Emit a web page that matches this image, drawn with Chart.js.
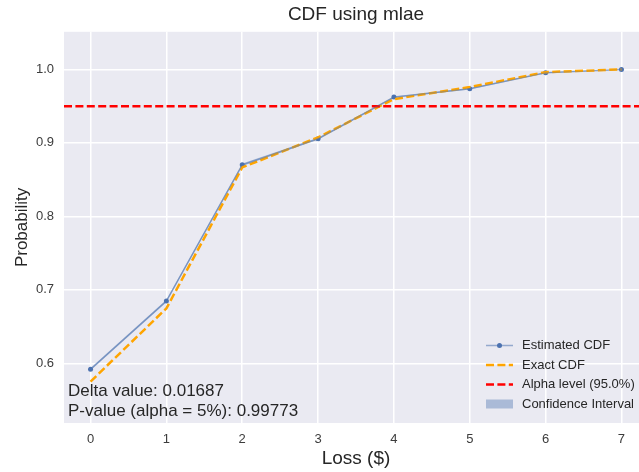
<!DOCTYPE html>
<html>
<head>
<meta charset="utf-8">
<script src="https://cdn.jsdelivr.net/npm/chart.js@4.4.1/dist/chart.umd.min.js"></script>
<style>
  html, body { margin: 0; padding: 0; overflow: hidden; background: #ffffff; }
  #wrap { width: 652px; height: 472px; }
</style>
</head>
<body>
<div id="wrap"><canvas id="cdf" width="652" height="472"></canvas></div>
<script>
// Loss values and CDF estimates
const lossValues   = [0, 1, 2, 3, 4, 5, 6, 7];
const estimatedCdf = [0.5920, 0.6848, 0.8702, 0.9056, 0.9623, 0.9736, 0.9954, 1.0000];
const exactCdf     = [0.57513, 0.6748, 0.8667, 0.9075, 0.9596, 0.9760, 0.9963, 1.0000];
const ciLower      = [0.5902, 0.6830, 0.8686, 0.9042, 0.9611, 0.9726, 0.9947, 0.9994];
const ciUpper      = [0.5938, 0.6866, 0.8718, 0.9070, 0.9635, 0.9746, 0.9961, 1.0000];
const alphaLevel   = 0.95;
const deltaValue   = 0.01687;
const pValue       = 0.99773;
const alphaPct     = 5;

// Axis limits and ticks
const xLimits     = [-0.35, 7.35];
const yLimits     = [0.5188, 1.0512];
const xTickValues = [0, 1, 2, 3, 4, 5, 6, 7];
const yTickValues = [0.6, 0.7, 0.8, 0.9, 1.0];

const FONT = '"Liberation Sans", Arial, sans-serif';
const TEXT = '#262626';
const TICK = '#3c3c3c';
const BLUE = '#4C72B0';
const BLUE_LINE = 'rgba(76,114,176,0.55)';
const BLUE_FILL = 'rgba(76,114,176,0.4)';
const ORANGE = '#FFA500';
const RED = '#FF0000';
const DASH = [8, 3.4];

const pts = (ys) => lossValues.map((x, i) => ({ x, y: ys[i] }));

// Corner legend drawn inside the plotting area, lower right
const cornerLegend = {
  id: 'cornerLegend',
  afterDraw(chart) {
    const { ctx, chartArea: a } = chart;
    const rowH = 19.5;
    const x0 = a.right - 162;
    const hw = 27;
    const textX = x0 + 36;
    const y0 = a.bottom - 19 - 3 * rowH;
    const ds = chart.data.datasets;
    ctx.save();
    ctx.font = '13px ' + FONT;
    ctx.textBaseline = 'middle';
    ctx.textAlign = 'left';

    // Estimated CDF
    let y = y0;
    ctx.strokeStyle = BLUE_LINE; ctx.lineWidth = 1.5; ctx.setLineDash([]);
    ctx.beginPath(); ctx.moveTo(x0, y); ctx.lineTo(x0 + hw, y); ctx.stroke();
    ctx.fillStyle = BLUE; ctx.beginPath(); ctx.arc(x0 + hw / 2, y, 2.5, 0, Math.PI * 2); ctx.fill();
    ctx.fillStyle = TEXT; ctx.fillText(ds[0].label, textX, y);

    // Exact CDF
    y += rowH;
    ctx.strokeStyle = ORANGE; ctx.lineWidth = 2.5; ctx.setLineDash(DASH);
    ctx.beginPath(); ctx.moveTo(x0, y); ctx.lineTo(x0 + hw, y); ctx.stroke();
    ctx.fillText(ds[1].label, textX, y);

    // Alpha level
    y += rowH;
    ctx.strokeStyle = RED; ctx.lineWidth = 2.5; ctx.setLineDash(DASH);
    ctx.beginPath(); ctx.moveTo(x0, y); ctx.lineTo(x0 + hw, y); ctx.stroke();
    ctx.setLineDash([]);
    ctx.fillText(ds[2].label, textX, y);

    // Confidence interval
    y += rowH;
    ctx.fillStyle = BLUE_FILL; ctx.fillRect(x0, y - 4.5, hw, 9);
    ctx.fillStyle = TEXT; ctx.fillText(ds[4].label, textX, y);
    ctx.restore();
  }
};

// Statistics text in the lower-left corner
const statsText = {
  id: 'statsText',
  afterDraw(chart) {
    const { ctx, chartArea: a } = chart;
    ctx.save();
    ctx.font = '17px ' + FONT;
    ctx.fillStyle = TEXT;
    ctx.textAlign = 'left';
    ctx.textBaseline = 'alphabetic';
    ctx.fillText('Delta value: ' + deltaValue.toFixed(5), a.left + 4, a.bottom - 27);
    ctx.fillText('P-value (alpha = ' + alphaPct + '%): ' + pValue.toFixed(5), a.left + 4, a.bottom - 7);
    ctx.restore();
  }
};

const bg = {
  id: 'plotBg',
  beforeDraw(chart) {
    const { ctx, chartArea: a } = chart;
    ctx.save();
    ctx.fillStyle = '#EAEAF2';
    ctx.fillRect(a.left, a.top, a.right - a.left, a.bottom - a.top);
    ctx.restore();
  }
};

new Chart(document.getElementById('cdf'), {
  type: 'line',
  data: {
    datasets: [
      {
        label: 'Estimated CDF',
        data: pts(estimatedCdf),
        borderColor: BLUE_LINE,
        borderWidth: 1.5,
        pointRadius: 2.5,
        pointBackgroundColor: BLUE,
        pointBorderWidth: 0,
        tension: 0,
        fill: false,
        order: 5
      },
      {
        label: 'Exact CDF',
        data: pts(exactCdf),
        borderColor: ORANGE,
        borderWidth: 2.5,
        borderDash: DASH,
        pointRadius: 0,
        tension: 0,
        fill: false,
        order: 4
      },
      {
        label: 'Alpha level (' + (alphaLevel * 100).toFixed(1) + '%)',
        data: xLimits.map(x => ({ x, y: alphaLevel })),
        borderColor: RED,
        borderWidth: 2.5,
        borderDash: DASH,
        pointRadius: 0,
        fill: false,
        order: 3
      },
      {
        label: 'CI lower',
        data: pts(ciLower),
        borderColor: 'rgba(0,0,0,0)',
        borderWidth: 0,
        pointRadius: 0,
        fill: false,
        order: 2
      },
      {
        label: 'Confidence Interval',
        data: pts(ciUpper),
        borderColor: 'rgba(0,0,0,0)',
        borderWidth: 0,
        pointRadius: 0,
        backgroundColor: BLUE_FILL,
        fill: '-1',
        order: 1
      }
    ]
  },
  options: {
    responsive: false,
    animation: false,
    devicePixelRatio: 1,
    layout: { padding: 0 },
    plugins: {
      legend: { display: false },
      tooltip: { enabled: false },
      title: {
        display: true,
        text: 'CDF using mlae',
        fullSize: false,
        color: TEXT,
        font: { family: FONT, size: 19, weight: 'normal' },
        padding: { top: 3, bottom: 6 }
      }
    },
    scales: {
      x: {
        type: 'linear',
        min: xLimits[0],
        max: xLimits[1],
        afterBuildTicks(scale) { scale.ticks = xTickValues.map(v => ({ value: v })); },
        afterFit(scale) { scale.height = 49; },
        grid: { color: '#FFFFFF', lineWidth: 1.5, drawTicks: false },
        border: { display: false },
        ticks: {
          color: TICK,
          padding: 9,
          font: { family: FONT, size: 13 },
          callback: (v) => String(v)
        },
        title: {
          display: true,
          text: 'Loss ($)',
          color: TEXT,
          font: { family: FONT, size: 19 },
          padding: { top: 0, bottom: 2 }
        }
      },
      y: {
        type: 'linear',
        min: yLimits[0],
        max: yLimits[1],
        afterBuildTicks(scale) { scale.ticks = yTickValues.map(v => ({ value: v })); },
        afterFit(scale) { scale.width = 64; },
        grid: { color: '#FFFFFF', lineWidth: 1.5, drawTicks: false },
        border: { display: false },
        ticks: {
          color: TICK,
          padding: 10,
          font: { family: FONT, size: 13 },
          callback: (v) => Number(v).toFixed(1)
        },
        title: {
          display: true,
          text: 'Probability',
          color: TEXT,
          font: { family: FONT, size: 17 },
          padding: { top: 12, bottom: 0 }
        }
      }
    }
  },
  plugins: [bg, cornerLegend, statsText]
});
</script>
</body>
</html>
